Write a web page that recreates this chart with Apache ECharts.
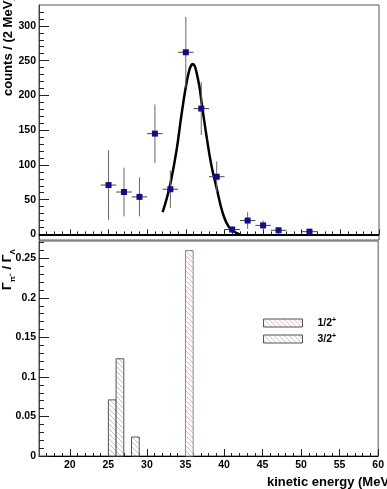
<!DOCTYPE html>
<html>
<head>
<meta charset="utf-8">
<script src="https://cdn.jsdelivr.net/npm/echarts@6/dist/echarts.min.js"></script>
<style>html,body{margin:0;padding:0;background:#fff;}#c{width:387px;height:489px;}</style>
</head>
<body>
<div id="c"></div>
<script>
// ---- data ----
const energy    = [25, 27, 29, 31, 33, 35, 37, 39, 41, 43, 45, 47, 51];
const counts    = [71, 61, 54, 145, 65, 262, 181, 83, 7, 20, 13, 6, 4];
const countErr  = [50, 35, 28, 42, 27, 51, 38, 22, 5, 12, 7, 3, 3];
const energyErr = [1, 1, 1, 1, 1, 1, 1, 1, 1, 1, 1, 1, 1];

const fitX = [32.0, 32.9, 33.8, 34.4, 35.0, 35.5, 35.9, 36.6, 37.1, 37.7, 38.3, 39.0, 39.8, 40.7, 42.0];
const fitY = [32, 68, 121, 169, 212, 238, 245, 222, 185, 140, 100, 66, 30, 9, 0];

const lowHalf  = [35];       const highHalf  = [36];       const ratioHalf  = [0.260];
const lowThree = [25, 26, 28]; const highThree = [26, 27, 29]; const ratioThree = [0.071, 0.123, 0.024];

const xMajor = [20, 25, 30, 35, 40, 45, 50, 55, 60];
const xMinor = [17,18,19,21,22,23,24,26,27,28,29,31,32,33,34,36,37,38,39,41,42,43,44,46,47,48,49,51,52,53,54,56,57,58,59];
const yTopMajor = [0, 50, 100, 150, 200, 250, 300];
const yTopMinor = [10,20,30,40,60,70,80,90,110,120,130,140,160,170,180,190,210,220,230,240,260,270,280,290,310,320];
const yBotMajor = [0, 0.05, 0.1, 0.15, 0.2, 0.25];
const yBotMinor = [0.01,0.02,0.03,0.04,0.06,0.07,0.08,0.09,0.11,0.12,0.13,0.14,0.16,0.17,0.18,0.19,0.21,0.22,0.23,0.24,0.26,0.27];

const nameHalf = '1/2+';
const nameThree = '3/2+';

// ---- drawing ----
function hatch(color) {
  const c = document.createElement('canvas');
  c.width = 5; c.height = 5;
  const g = c.getContext('2d');
  g.fillStyle = '#fff'; g.fillRect(0, 0, 5, 5);
  g.strokeStyle = color; g.lineWidth = 1;
  g.beginPath();
  g.moveTo(0, 0); g.lineTo(5, 5);
  g.moveTo(-1, 4); g.lineTo(1, 6);
  g.moveTo(4, -1); g.lineTo(6, 1);
  g.stroke();
  return c;
}
const patHalf = { image: hatch('#eab3c0'), repeat: 'repeat' };
const patThree = { image: hatch('#c4c4c4'), repeat: 'repeat' };

const FONT = '"Liberation Sans", Arial, sans-serif';
const lab = { fontSize: 10.5, fontWeight: 'bold', fontFamily: FONT, color: '#000' };

function barRender(pattern, stroke) {
  return function (params, api) {
    const p0 = api.coord([api.value(0), api.value(2)]);
    const p1 = api.coord([api.value(1), 0]);
    return {
      type: 'rect',
      shape: { x: p0[0], y: p0[1], width: p1[0] - p0[0], height: p1[1] - p0[1] },
      style: { fill: pattern, stroke: stroke, lineWidth: 1 }
    };
  };
}

function errRender(params, api) {
  const x = api.value(0), y = api.value(1), ex = api.value(2), ey = api.value(3);
  const a = api.coord([x - ex, y]), b = api.coord([x + ex, y]);
  const c = api.coord([x, y - ey]), d = api.coord([x, y + ey]);
  return {
    type: 'group',
    children: [
      { type: 'line', shape: { x1: a[0], y1: a[1], x2: b[0], y2: b[1] }, style: { stroke: '#444', lineWidth: 1 } },
      { type: 'line', shape: { x1: c[0], y1: c[1], x2: d[0], y2: d[1] }, style: { stroke: '#666', lineWidth: 1 } }
    ]
  };
}

function xAxisPair(grid, showLabels, majLen, minLen) {
  return [
    { gridIndex: grid, type: 'value', min: 16, max: 60, position: 'bottom',
      axisLine: { show: true, lineStyle: { color: '#000', width: 1 } },
      axisTick: { show: true, inside: true, length: majLen, customValues: xMajor, lineStyle: { color: '#222' } },
      axisLabel: { show: showLabels, customValues: xMajor, margin: 4, ...lab },
      splitLine: { show: false } },
    { gridIndex: grid, type: 'value', min: 16, max: 60, position: 'bottom', offset: 0,
      axisLine: { show: false },
      axisTick: { show: true, inside: true, length: minLen, customValues: xMinor, lineStyle: { color: '#222' } },
      axisLabel: { show: false },
      splitLine: { show: false } }
  ];
}
function yAxisPair(grid, min, max, major, minor) {
  return [
    { gridIndex: grid, type: 'value', min: min, max: max, position: 'left',
      axisLine: { show: true, lineStyle: { color: '#444', width: 1 } },
      axisTick: { show: true, inside: true, length: 10, customValues: major, lineStyle: { color: '#222' } },
      axisLabel: { show: true, customValues: major, margin: 3, ...lab },
      splitLine: { show: false } },
    { gridIndex: grid, type: 'value', min: min, max: max, position: 'left', offset: 0,
      axisLine: { show: false },
      axisTick: { show: true, inside: true, length: 5, customValues: minor, lineStyle: { color: '#222' } },
      axisLabel: { show: false },
      splitLine: { show: false } }
  ];
}

const chart = echarts.init(document.getElementById('c'), null, { renderer: 'canvas' });
chart.setOption({
  animation: false,
  backgroundColor: '#fff',
  grid: [
    { left: 39, right: 8, top: 5, height: 235, show: true, borderColor: '#555', borderWidth: 1, backgroundColor: 'transparent' },
    { left: 39, right: 8, top: 241, height: 215, show: true, borderColor: '#555', borderWidth: 1, backgroundColor: 'transparent' }
  ],
  xAxis: [...xAxisPair(0, false, 5, 3), ...xAxisPair(1, true, 7, 3)],
  yAxis: [...yAxisPair(0, -8, 330, yTopMajor, yTopMinor), ...yAxisPair(1, 0, 0.272, yBotMajor, yBotMinor)],
  legend: {
    left: 263, top: 317, padding: 0, orient: 'vertical', icon: 'rect',
    itemWidth: 39, itemHeight: 8, itemGap: 4,
    data: [
      { name: nameHalf, itemStyle: { color: patHalf, borderColor: '#555', borderWidth: 1 } },
      { name: nameThree, itemStyle: { color: patThree, borderColor: '#555', borderWidth: 1 } }
    ],
    formatter: n => n.slice(0, 3) + '{sup|+}',
    textStyle: { ...lab, lineHeight: 12, padding: [0, 0, 0, 10],
      rich: { sup: { fontSize: 7, fontWeight: 'bold', fontFamily: FONT, lineHeight: 12, verticalAlign: 'top', padding: [0, 0, 4, 0] } } }
  },
  series: [
    { type: 'custom', name: nameHalf, xAxisIndex: 2, yAxisIndex: 2,
      data: lowHalf.map((v, i) => [v, highHalf[i], ratioHalf[i]]),
      encode: { x: [0, 1], y: 2 }, renderItem: barRender(patHalf, '#8a8a8a'),
      itemStyle: { color: patHalf } },
    { type: 'custom', name: nameThree, xAxisIndex: 2, yAxisIndex: 2,
      data: lowThree.map((v, i) => [v, highThree[i], ratioThree[i]]),
      encode: { x: [0, 1], y: 2 }, renderItem: barRender(patThree, '#555'),
      itemStyle: { color: patThree } },
    { type: 'line', name: 'fit', xAxisIndex: 0, yAxisIndex: 0,
      data: fitX.map((v, i) => [v, fitY[i]]), smooth: 0.4, showSymbol: false, symbol: 'none',
      lineStyle: { color: '#000', width: 2.5 }, z: 3,
      markLine: { silent: true, symbol: ['none', 'none'], label: { show: false },
        lineStyle: { color: '#000', width: 2, type: 'solid' }, data: [{ yAxis: 0 }] } },
    { type: 'custom', name: 'errors', xAxisIndex: 0, yAxisIndex: 0,
      data: energy.map((v, i) => [v, counts[i], energyErr[i], countErr[i]]),
      encode: { x: 0, y: 1 }, renderItem: errRender, z: 4 },
    { type: 'scatter', name: 'data', xAxisIndex: 0, yAxisIndex: 0,
      data: energy.map((v, i) => [v, counts[i]]), symbol: 'rect', symbolSize: 6,
      itemStyle: { color: '#120d85', opacity: 1 }, z: 5 }
  ],
  graphic: [
    { type: 'text', x: 8, y: 96, rotation: Math.PI / 2,
      style: { text: 'counts / (2 MeV)', fontSize: 13, fontWeight: 'bold', fontFamily: FONT, fill: '#000', align: 'left', verticalAlign: 'middle' } },
    { type: 'text', x: 9, y: 290, rotation: Math.PI / 2,
      style: { text: '{g|Γ}{s|π⁻}{g| / Γ}{s|Λ}', fontFamily: FONT, fill: '#000', align: 'left', verticalAlign: 'middle',
        rich: { g: { fontSize: 13, fontWeight: 'bold', fontFamily: FONT, verticalAlign: 'bottom', padding: [0, 0, 3, 0] },
                s: { fontSize: 8, fontWeight: 'bold', fontFamily: FONT, verticalAlign: 'bottom' } } } },
    { type: 'text', x: 267, y: 482,
      style: { text: 'kinetic energy (MeV)', fontSize: 13, fontWeight: 'bold', fontFamily: FONT, fill: '#000', align: 'left', verticalAlign: 'middle' } }
  ]
});
</script>
</body>
</html>
